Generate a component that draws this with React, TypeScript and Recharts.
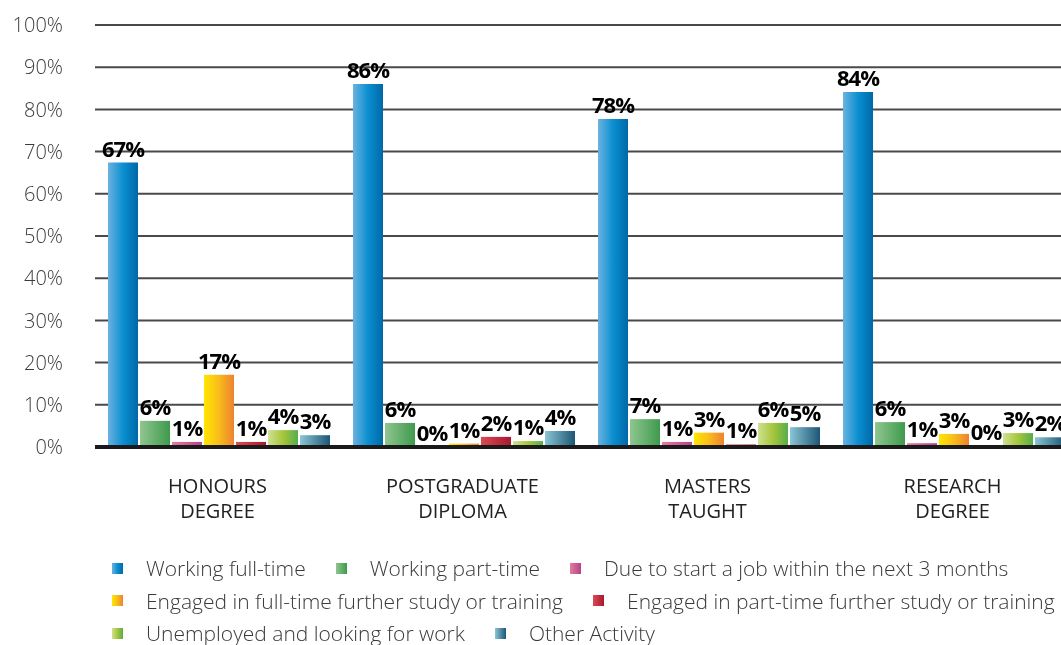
import React from "react";
import { BarChart, Bar, XAxis, YAxis, CartesianGrid, LabelList, Legend } from "recharts";

const categories = ["HONOURS DEGREE", "POSTGRADUATE DIPLOMA", "MASTERS TAUGHT", "RESEARCH DEGREE"];
const workingFullTime = [67.4, 86.0, 77.7, 84.1];
const workingPartTime = [6.2, 5.7, 6.6, 5.9];
const dueToStartJob = [1.2, 0.1, 1.2, 0.9];
const fullTimeStudy = [17.1, 0.8, 3.4, 3.1];
const partTimeStudy = [1.2, 2.4, 0.6, 0.3];
const unemployed = [4.0, 1.4, 5.7, 3.3];
const otherActivity = [2.8, 3.8, 4.7, 2.3];
const yTicks = [0, 10, 20, 30, 40, 50, 60, 70, 80, 90, 100];

const seriesNames = [
  "Working full-time",
  "Working part-time",
  "Due to start a job within the next 3 months",
  "Engaged in full-time further study or training",
  "Engaged in part-time further study or training",
  "Unemployed and looking for work",
  "Other Activity",
];
const seriesValues = [workingFullTime, workingPartTime, dueToStartJob, fullTimeStudy, partTimeStudy, unemployed, otherActivity];
const seriesKeys = ["s0", "s1", "s2", "s3", "s4", "s5", "s6"];
const seriesGradients: string[][] = [
  ["#6cb2e0", "#0a8fd0", "#0068a8"],
  ["#90c690", "#3e9a4c"],
  ["#e47c9e", "#b4428a"],
  ["#ffe600", "#f8bc1c", "#ee822e"],
  ["#dc4a54", "#a8182e"],
  ["#cfe192", "#a6c63a", "#56ad4c"],
  ["#8ac6d4", "#1c5676"],
];
const legendRows = [[0, 1, 2], [3, 4], [5, 6]];

const data = categories.map((c, i) => {
  const row: Record<string, number | string> = { name: c };
  seriesKeys.forEach((k, j) => (row[k] = seriesValues[j][i]));
  return row;
});

const CategoryTick = (props: any) => {
  const { x, y, payload } = props;
  const lines = String(payload.value).split(" ");
  return (
    <g transform={`translate(${x},${y})`}>
      {lines.map((l, i) => (
        <text key={i} x={0} y={38 + i * 25} textAnchor="middle" fill="#222" fontSize={20} fontFamily="Open Sans" fontWeight={400}>
          {l}
        </text>
      ))}
    </g>
  );
};

const LegendContent = () => (
  <div style={{ height: 96, paddingLeft: 104, fontFamily: "Open Sans", fontSize: 21, fontWeight: 300, color: "#3a3a3a", textAlign: "left" }}>
    {legendRows.map((row, r) => (
      <div key={r} style={{ display: "flex", alignItems: "center", height: 32.5, whiteSpace: "nowrap" }}>
        {row.map((idx) => {
          const g = seriesGradients[idx];
          return (
            <div key={idx} style={{ display: "flex", alignItems: "center", marginRight: 30 }}>
              <span style={{ display: "inline-block", width: 11, height: 11, background: `linear-gradient(to right, ${g.join(",")})`, marginRight: 23 }} />
              <span>{seriesNames[idx]}</span>
            </div>
          );
        })}
      </div>
    ))}
  </div>
);

export default function App() {
  return (
    <div style={{ position: "fixed", top: 8, left: 8, width: 1053, height: 637, overflow: "hidden" }}>
      <BarChart
        width={1067}
        height={662}
        data={data}
        margin={{ top: 17, right: 0, left: 0, bottom: 22 }}
        barCategoryGap={13}
        barGap={2}
        style={{ fontFamily: "Open Sans" }}
      >
        <defs>
          {seriesGradients.map((g, i) => (
            <linearGradient key={i} id={`grad${i}`} x1="0" y1="0" x2="1" y2="0">
              {g.map((c, j) => (
                <stop key={j} offset={`${(j / (g.length - 1)) * 100}%`} stopColor={c} />
              ))}
            </linearGradient>
          ))}
        </defs>
        <CartesianGrid vertical={false} stroke="#4a4a4a" strokeWidth={2} horizontalValues={yTicks.slice(1)} />
        <XAxis dataKey="name" height={105} tick={<CategoryTick />} tickLine={false} axisLine={{ stroke: "#1a1a1a", strokeWidth: 4 }} interval={0} />
        <YAxis
          width={87}
          domain={[0, 100]}
          ticks={yTicks}
          tickFormatter={(v: number) => `${v}%`}
          axisLine={false}
          tickLine={false}
          tickSize={0}
          tickMargin={32}
          tick={{ fill: "#3c3c3c", fontSize: 20, fontFamily: "Open Sans", fontWeight: 300 }}
        />
        {seriesKeys.map((k, i) => (
          <Bar key={k} dataKey={k} name={seriesNames[i]} fill={`url(#grad${i})`} isAnimationActive={false}>
            <LabelList
              dataKey={k}
              position="top"
              offset={6}
              formatter={(v: any) => `${Math.round(Number(v))}%`}
              style={{ fill: "#000", fontSize: 22, fontWeight: 700, fontFamily: "Open Sans", letterSpacing: -1 }}
            />
          </Bar>
        ))}
        <Legend verticalAlign="bottom" align="left" content={<LegendContent />} wrapperStyle={{ height: 96 }} />
      </BarChart>
    </div>
  );
}
